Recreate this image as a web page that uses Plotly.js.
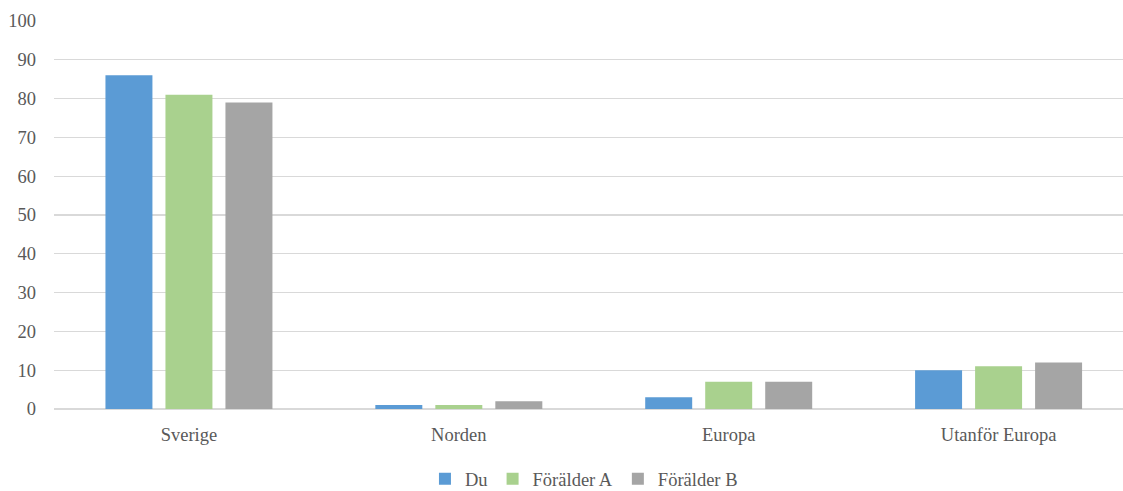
<!DOCTYPE html>
<html>
<head>
<meta charset="utf-8">
<script src="https://cdn.plot.ly/plotly-3.0.1.min.js"></script>
<style>html,body{margin:0;padding:0;background:#fff;}#chart{width:1123px;height:491px;}</style>
</head>
<body>
<div id="chart"></div>
<script>
var categories = ["Sverige", "Norden", "Europa", "Utanför Europa"];
var seriesNames = ["Du", "Förälder A", "Förälder B"];
var du = [86, 1, 3, 10];
var foralderA = [81, 1, 7, 11];
var foralderB = [79, 2, 7, 12];
var yTicks = [0, 10, 20, 30, 40, 50, 60, 70, 80, 90, 100];

var colors = ["#5b9bd5", "#a9d18e", "#a5a5a5"];
var values = [du, foralderA, foralderB];
var traces = values.map(function (v, i) {
  return {
    type: "bar",
    name: seriesNames[i],
    x: categories,
    y: v,
    marker: { color: colors[i] },
    hoverinfo: "x+y+name"
  };
});

var serif = '"Liberation Serif", "Times New Roman", Times, serif';

var layout = {
  width: 1123,
  height: 491,
  margin: { l: 53.5, r: 0, t: 21, b: 82 },
  paper_bgcolor: "#ffffff",
  plot_bgcolor: "#ffffff",
  font: { family: serif, size: 18.5, color: "#595959" },
  barmode: "group",
  bargap: 0.333,
  bargroupgap: 0.217,
  showlegend: true,
  legend: {
    orientation: "h",
    x: 0.52, xref: "container", xanchor: "center",
    y: 0.024, yref: "container", yanchor: "middle",
    font: { family: serif, size: 18.5, color: "#595959" },
    itemwidth: 30,
    tracegroupgap: 0
  },
  xaxis: {
    type: "category",
    range: [-0.5, 3.461],
    showgrid: false,
    showline: false,
    zeroline: false,
    ticks: "",
    ticklabelstandoff: 12,
    tickfont: { family: serif, size: 18.5, color: "#595959" }
  },
  yaxis: {
    range: [0, 100],
    tickvals: yTicks,
    ticktext: yTicks.map(String),
    showgrid: true,
    gridcolor: "#d9d9d9",
    gridwidth: 1.3,
    zeroline: true,
    zerolinecolor: "#d9d9d9",
    zerolinewidth: 1.3,
    showline: false,
    ticks: "",
    ticklabelstandoff: 17,
    tickfont: { family: serif, size: 18.5, color: "#595959" }
  }
};

Plotly.newPlot("chart", traces, layout, { displayModeBar: false, staticPlot: true });
</script>
</body>
</html>
